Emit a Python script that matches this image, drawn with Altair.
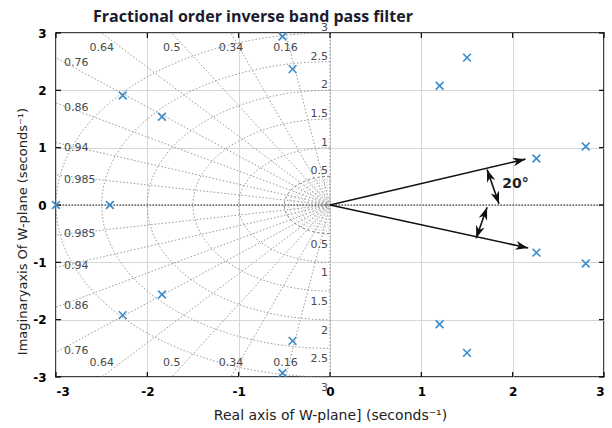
import numpy as np
import pandas as pd
import altair as alt

# ---------------- data ----------------
pole_re = [-3.00, -2.41, -2.27, -2.27, -1.84, -1.84, -0.52, -0.52, -0.41, -0.41,
           1.20, 1.20, 1.50, 1.50, 2.26, 2.26, 2.80, 2.80]
pole_im = [0.00, 0.00, 1.91, -1.92, 1.54, -1.56, 2.94, -2.93, 2.37, -2.37,
           2.08, -2.08, 2.57, -2.58, 0.81, -0.83, 1.02, -1.02]

zetas = [0.16, 0.34, 0.5, 0.64, 0.76, 0.86, 0.94, 0.985]
zeta_labels = ["0.16", "0.34", "0.5", "0.64", "0.76", "0.86", "0.94", "0.985"]
wn_major = [0.5, 1, 1.5, 2, 2.5, 3]
wn_labels = ["0.5", "1", "1.5", "2", "2.5", "3"]
wn_minor = [0.05, 0.1, 0.15, 0.2, 0.25, 0.3, 0.35, 0.4, 0.45]

tick_vals = [-3, -2, -1, 0, 1, 2, 3]

# annotation arrows (data coordinates)
arrow_x0 = [0.0, 0.0]
arrow_y0 = [0.0, 0.0]
arrow_x1 = [2.14, 2.17]
arrow_y1 = [0.80, -0.75]
dbl_x0 = [1.72, 1.72]
dbl_y0 = [0.62, -0.04]
dbl_x1 = [1.85, 1.60]
dbl_y1 = [0.02, -0.58]
ann_text = ["20°"]
ann_x = [2.03]
ann_y = [0.36]

title = "Fractional order inverse band pass filter"
xtitle = "Real axis of W-plane] (seconds⁻¹)"
ytitle = "Imaginaryaxis Of W-plane (seconds⁻¹)"

# ---------------- layout ----------------
W, H = 548, 344
LIM = 3.0
kx, ky = W / (2 * LIM), H / (2 * LIM)

xs = alt.Scale(domain=[-LIM, LIM], nice=False, zero=False)
ys = alt.Scale(domain=[-LIM, LIM], nice=False, zero=False)

FONT = "DejaVu Sans"
LBL = "datum.value < 0 ? '-' + abs(datum.value) : '' + datum.value"
xaxis = alt.Axis(values=tick_vals, labelExpr=LBL, grid=True, gridColor="#d6d6d6", gridWidth=1,
                 domain=False, ticks=False, labelFont=FONT, labelFontWeight="bold",
                 labelFontSize=12, labelColor="#000", labelPadding=9,
                 title=xtitle, titleFont=FONT, titleFontSize=14, titleFontWeight="normal",
                 titleColor="#222", titlePadding=11)
yaxis = alt.Axis(values=tick_vals, labelExpr=LBL, grid=True, gridColor="#d6d6d6", gridWidth=1,
                 domain=False, ticks=False, labelFont=FONT, labelFontWeight="bold",
                 labelFontSize=12, labelColor="#000", labelPadding=10,
                 title=ytitle, titleFont=FONT, titleFontSize=13, titleFontWeight="normal",
                 titleColor="#222", titleX=-27, titleY=198, titleAngle=270,
                 titleAlign="center", titleBaseline="bottom")


def X(f):
    return alt.X(f, scale=xs, axis=xaxis)


def Y(f):
    return alt.Y(f, scale=ys, axis=yaxis)


# circles of constant natural frequency (left half plane)
th = np.linspace(np.pi / 2, 3 * np.pi / 2, 161)
rows = []
for kind, lst in (("minor", wn_minor), ("major", wn_major)):
    for w in lst:
        for i, t in enumerate(th):
            rows.append({"x": w * np.cos(t), "y": w * np.sin(t), "wn": w, "o": i, "kind": kind})
circ = pd.DataFrame(rows)

# damping rays
ray_rows = []
for z in zetas:
    s = np.sqrt(1 - z * z)
    t = min(LIM / z, LIM / s)
    for sg in (1, -1):
        ray_rows.append({"x": 0.0, "y": 0.0, "x2": -z * t, "y2": sg * s * t})
rays = pd.DataFrame(ray_rows)

# damping labels
top_rows, bot_rows, lpos_rows, lneg_rows = [], [], [], []
for z, lab in zip(zetas, zeta_labels):
    s = np.sqrt(1 - z * z)
    if LIM * z / s <= LIM:
        top_rows.append({"x": -LIM * z / s, "y": LIM, "t": lab})
        bot_rows.append({"x": -LIM * z / s, "y": -LIM, "t": lab})
    else:
        lpos_rows.append({"x": -LIM, "y": LIM * s / z, "t": lab})
        lneg_rows.append({"x": -LIM, "y": -LIM * s / z, "t": lab})
ztop = pd.DataFrame(top_rows)
zbot = pd.DataFrame(bot_rows)
zlpos = pd.DataFrame(lpos_rows)
zlneg = pd.DataFrame(lneg_rows)

wpos = pd.DataFrame({"x": [0.0] * len(wn_major), "y": wn_major, "t": wn_labels})
wneg = pd.DataFrame({"x": [0.0] * len(wn_major), "y": [-w for w in wn_major], "t": wn_labels})

poles = pd.DataFrame({"x": pole_re, "y": pole_im})
ticks = pd.DataFrame({"x": tick_vals, "y": tick_vals})

arr = pd.DataFrame({"x": arrow_x0 + dbl_x0, "y": arrow_y0 + dbl_y0,
                    "x2": arrow_x1 + dbl_x1, "y2": arrow_y1 + dbl_y1})


def ang(dx, dy):
    return float(np.degrees(np.arctan2(kx * dx, ky * dy)) % 360)


head_rows = []
for a, b, c, d in zip(arrow_x0, arrow_y0, arrow_x1, arrow_y1):
    head_rows.append({"x": c, "y": d, "ang": ang(c - a, d - b)})
for a, b, c, d in zip(dbl_x0, dbl_y0, dbl_x1, dbl_y1):
    head_rows.append({"x": c, "y": d, "ang": ang(c - a, d - b)})
    head_rows.append({"x": a, "y": b, "ang": ang(a - c, b - d)})
heads = pd.DataFrame(head_rows)
ann = pd.DataFrame({"x": ann_x, "y": ann_y, "t": ann_text})

GRID = "#8c8c8c"

minor_c = alt.Chart(circ[circ.kind == "minor"]).mark_line(
    color=GRID, strokeWidth=0.7, strokeDash=[1, 1.5]).encode(
    x=X("x:Q"), y=Y("y:Q"), detail="wn:N", order="o:Q")
half_c = alt.Chart(circ[(circ.kind == "major") & (circ.wn == wn_major[0])]).mark_line(
    color="#707070", strokeWidth=1, strokeDash=[3, 2]).encode(
    x=X("x:Q"), y=Y("y:Q"), detail="wn:N", order="o:Q")
major_c = alt.Chart(circ[(circ.kind == "major") & (circ.wn != wn_major[0])]).mark_line(
    color=GRID, strokeWidth=0.9, strokeDash=[1.5, 2]).encode(
    x=X("x:Q"), y=Y("y:Q"), detail="wn:N", order="o:Q")
ray_l = alt.Chart(rays).mark_rule(color=GRID, strokeWidth=0.9, strokeDash=[1.5, 2]).encode(
    x=X("x:Q"), y=Y("y:Q"), x2="x2:Q", y2="y2:Q")
real_ax = alt.Chart(pd.DataFrame({"y": [0.0]})).mark_rule(
    color="#666", strokeWidth=1.3, strokeDash=[1.5, 1.5]).encode(y=Y("y:Q"))
imag_ax = alt.Chart(pd.DataFrame({"x": [0.0]})).mark_rule(
    color="#888", strokeWidth=1, strokeDash=[1.5, 2]).encode(x=X("x:Q"))

TCOL = "#4a4a4a"


def txt(df, **kw):
    return alt.Chart(df).mark_text(font=FONT, fontSize=11, color=TCOL, **kw).encode(
        x=X("x:Q"), y=Y("y:Q"), text="t:N")


ztop_t = txt(ztop, baseline="middle", align="center", dy=15)
zbot_t = txt(zbot, baseline="middle", align="center", dy=-14)
zlp_t = txt(zlpos, baseline="middle", align="left", dx=8, dy=5)
zln_t = txt(zlneg, baseline="middle", align="left", dx=8, dy=-1)
wp_t = txt(wpos, baseline="bottom", align="right", dx=-2, dy=0)
wn_t = txt(wneg, baseline="top", align="right", dx=-2, dy=5)

pole_l = alt.Chart(poles).mark_point(
    shape="M-1,-1L1,1M-1,1L1,-1", filled=False, color="#3a8ccc", strokeWidth=1.6,
    size=60, opacity=1).encode(x=X("x:Q"), y=Y("y:Q"))

TL = 5
tk_b = alt.Chart(ticks).mark_rule(color="#000", strokeWidth=1.2).encode(
    x=X("x:Q"), y=alt.value(H), y2=alt.value(H - TL))
tk_t = alt.Chart(ticks).mark_rule(color="#000", strokeWidth=1.2).encode(
    x=X("x:Q"), y=alt.value(0), y2=alt.value(TL))
tk_l = alt.Chart(ticks).mark_rule(color="#000", strokeWidth=1.2).encode(
    y=Y("y:Q"), x=alt.value(0), x2=alt.value(TL))
tk_r = alt.Chart(ticks).mark_rule(color="#000", strokeWidth=1.2).encode(
    y=Y("y:Q"), x=alt.value(W), x2=alt.value(W - TL))

shaft = alt.Chart(arr).mark_rule(color="#111", strokeWidth=1.6).encode(
    x=X("x:Q"), y=Y("y:Q"), x2="x2:Q", y2="y2:Q")
head = alt.Chart(heads).mark_point(
    shape="M0,0L0.6,1.7L0,1.2L-0.6,1.7Z", filled=True, color="#111", size=220,
    opacity=1, strokeWidth=0.8).encode(
    x=X("x:Q"), y=Y("y:Q"), angle=alt.Angle("ang:Q", scale=None))
ann_t = alt.Chart(ann).mark_text(font=FONT, fontSize=14, fontWeight="bold", color="#222",
                                  align="center", baseline="middle").encode(
    x=X("x:Q"), y=Y("y:Q"), text="t:N")

chart = alt.layer(
    minor_c, major_c, half_c, ray_l, real_ax, imag_ax,
    ztop_t, zbot_t, zlp_t, zln_t, wp_t, wn_t,
    tk_b, tk_t, tk_l, tk_r,
    shaft, head, ann_t, pole_l,
).properties(
    width=W, height=H,
    title=alt.TitleParams(title, anchor="start", dx=37, fontSize=16, fontWeight="bold",
                          font="Open Sans", color="#1b1b2e", frame="group", offset=-19,
                          baseline="bottom"),
    autosize=alt.AutoSizeParams(type="none"),
    padding={"left": 56, "top": 33, "right": 8, "bottom": 51},
    background="white",
).configure_view(stroke="#000", strokeWidth=1.5)

chart.save("out.html", embed_options={"renderer": "svg", "actions": False})
